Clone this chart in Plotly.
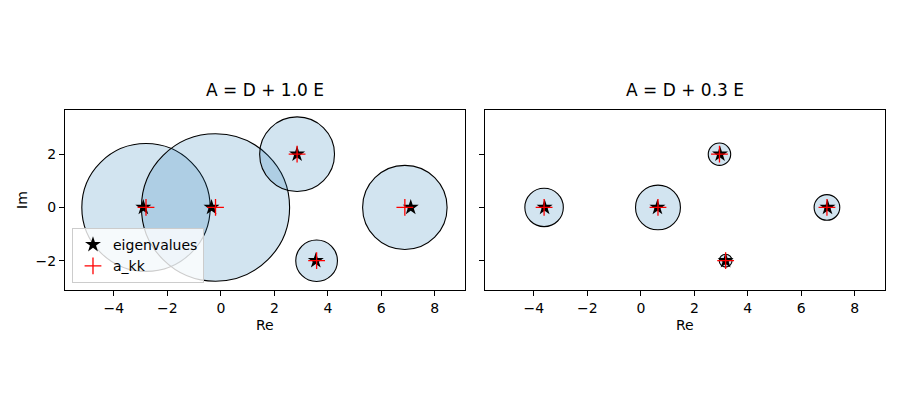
import plotly.graph_objects as go

# Gershgorin discs, left panel: A = D + 1.0 E
left_centers_re = [-2.8, -0.2, 2.85, 6.88, 3.58]
left_centers_im = [0.0, 0.0, 2.0, 0.0, -2.0]
left_radii = [2.4, 2.77, 1.4, 1.58, 0.78]
left_eig_re = [-2.9, -0.35, 2.85, 7.1, 3.55]
left_eig_im = [0.0, 0.0, 2.0, 0.0, -2.0]

# right panel: A = D + 0.3 E
right_centers_re = [-3.62, 0.64, 2.94, 6.96, 3.17]
right_centers_im = [0.0, 0.0, 2.0, 0.0, -2.0]
right_radii = [0.72, 0.84, 0.42, 0.48, 0.24]
right_eig_re = [-3.6, 0.62, 2.96, 6.98, 3.17]
right_eig_im = [0.0, 0.0, 2.0, 0.0, -2.0]

titles = ["A = D + 1.0 E", "A = D + 0.3 E"]
x_ticks = [-4, -2, 0, 2, 4, 6, 8]
y_ticks = [-2, 0, 2]

FONT = "DejaVu Sans"
fig = go.Figure()

panels = [
    (left_centers_re, left_centers_im, left_radii, left_eig_re, left_eig_im, "x", "y"),
    (right_centers_re, right_centers_im, right_radii, right_eig_re, right_eig_im, "x2", "y2"),
]

for i, (cre, cim, rad, ere, eim, xa, ya) in enumerate(panels):
    # discs
    for cx, cy, r in zip(cre, cim, rad):
        fig.add_shape(
            type="circle", xref=xa, yref=ya,
            x0=cx - r, x1=cx + r, y0=cy - r, y1=cy + r,
            fillcolor="rgba(31,119,180,0.2)",
            line=dict(color="black", width=1.1),
            layer="below",
        )
    fig.add_trace(go.Scatter(
        x=ere, y=eim, mode="markers", name="eigenvalues",
        marker=dict(symbol="star", size=12, color="black", line=dict(width=0)),
        xaxis=xa, yaxis=ya, showlegend=(i == 0),
    ))
    fig.add_trace(go.Scatter(
        x=cre, y=cim, mode="markers", name="a_kk",
        marker=dict(symbol="cross-thin", size=12, line=dict(color="red", width=1.3)),
        xaxis=xa, yaxis=ya, showlegend=(i == 0),
    ))

axis_common = dict(
    showgrid=False, zeroline=False, showline=True, mirror=True,
    linecolor="black", linewidth=1, ticks="outside", ticklen=5,
    tickcolor="black", tickfont=dict(family=FONT, size=14, color="black"),
)

# page body adds an 8px offset, positions below compensate for it
fig.update_layout(
    width=900, height=400,
    margin=dict(l=0, r=0, t=0, b=0),
    paper_bgcolor="white", plot_bgcolor="white",
    font=dict(family=FONT, color="black"),
    xaxis=dict(domain=[0.0633, 0.5078], range=[-5.83, 9.13], tickvals=x_ticks, **axis_common),
    yaxis=dict(domain=[0.295, 0.745], range=[-3.1, 3.66], tickvals=y_ticks, **axis_common),
    xaxis2=dict(domain=[0.53, 0.9744], range=[-5.83, 9.13], tickvals=x_ticks, anchor="y2", **axis_common),
    yaxis2=dict(domain=[0.295, 0.745], range=[-3.1, 3.66], tickvals=y_ticks, anchor="x2",
                showticklabels=False, **axis_common),
    legend=dict(
        x=0.0711, y=0.3125, xanchor="left", yanchor="bottom",
        bgcolor="rgba(255,255,255,0.8)", bordercolor="#cccccc", borderwidth=1,
        font=dict(family=FONT, size=14, color="black"),
        tracegroupgap=0, itemwidth=30,
    ),
    showlegend=True,
)

annotations = [
    dict(text=titles[0], x=0.2856, y=0.765, xref="paper", yref="paper",
         xanchor="center", yanchor="bottom", showarrow=False, font=dict(size=17)),
    dict(text=titles[1], x=0.7522, y=0.765, xref="paper", yref="paper",
         xanchor="center", yanchor="bottom", showarrow=False, font=dict(size=17)),
    dict(text="Re", x=0.2856, y=0.2075, xref="paper", yref="paper",
         xanchor="center", yanchor="middle", showarrow=False, font=dict(size=14)),
    dict(text="Re", x=0.7522, y=0.2075, xref="paper", yref="paper",
         xanchor="center", yanchor="middle", showarrow=False, font=dict(size=14)),
    dict(text="Im", x=14 / 900, y=0.52, xref="paper", yref="paper", textangle=-90,
         xanchor="center", yanchor="middle", showarrow=False, font=dict(size=14)),
]
fig.update_layout(annotations=annotations)

fig.write_html("out.html")
